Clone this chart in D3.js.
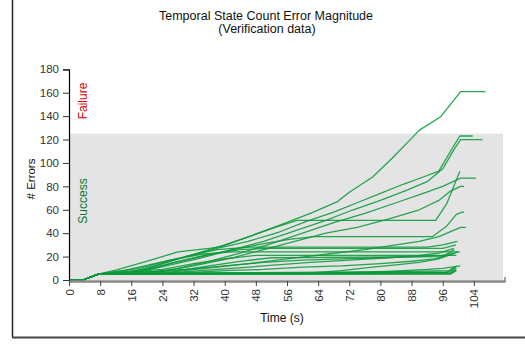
<!DOCTYPE html>
<html><head><meta charset="utf-8">
<script src="https://cdn.jsdelivr.net/npm/d3@7"></script>
<style>body{margin:0;background:#fff;} text{font-family:"Liberation Sans",Arial,sans-serif;}</style>
</head><body><svg id="c" width="525" height="345"></svg>
<script>
const xTicks = [0,8,16,24,32,40,48,56,64,72,80,88,96,104];
const yTicks = [0,20,40,60,80,100,120,140,160,180];
const successLimit = 125;
const start = [[0,0],[3.6,0],[7.5,5]];
// each series: [time (s), # errors] points after the common start
const s1  = [[12,8.5],[19,15],[28,24],[36,27],[39,28.5],[47,38],[55,48],[62,57],[69,67],[72,75],[78,88],[83,104],[88,121],[90,128],[95.5,139.5],[100.6,161],[107,161]];
const s2  = [[15,6],[22,12],[30,20],[38,27],[46,33],[54,41],[61,50],[68,58],[74,66],[80,74],[86,82],[91,88],[95,93],[98,110],[100.4,123],[103.7,123]];
const s3  = [[17,6],[25,12],[33,18],[41,25],[50,33],[58,42],[66,51],[73,60],[80,68],[87,77],[92,84],[96,95],[99,112],[100.6,120],[106.2,120]];
const s4  = [[16,6],[24,14],[32,22],[40,30],[47,38],[53,45],[58.6,51],[94.2,51],[97,65],[100.4,93]];
const s5  = [[20,6],[28,10],[36,16],[44,23],[52,31],[60,40],[68,49],[76,57],[84,66],[91,74],[96,80],[100.6,87],[104.5,87]];
const s6  = [[22,6],[32,12],[42,19],[50,26],[58,33],[66,40],[74,45],[82,52],[90,60],[95,68],[98,76],[100.6,80],[101.5,80]];
const s7  = [[18,7],[26,14],[34,20],[42,26],[50,31],[57,35],[62.9,37],[93.3,37],[97,46],[99.5,56],[101,58],[101.5,58]];
const s8  = [[24,6],[35,10],[46,14],[56,18],[66,22],[76,26],[84,30],[90,33],[95,37],[100.6,45],[102,45]];
const s9  = [[14,8],[22,14],[30,20],[38,26],[46.6,28],[92,28],[96,30],[99.8,33]];
const s10 = [[20,9],[28,16],[36,22],[44,26],[50,27],[96,27],[99.4,30]];
const s11 = [[26,6],[38,9],[50,12],[62,15],[72,17],[82,19],[90,21],[95,23],[98.9,27]];
const s12 = [[18,10],[26,17],[34,22],[42,24],[96,24],[100.4,24]];
const s13 = [[24,9],[32,14],[40,18],[48,21],[97,21],[99.5,21]];
const s14 = [[28,8],[36,12],[44,16],[52,19],[96,20],[99,26]];
const s15 = [[62,6],[70,8],[78,11],[84,13],[90,15],[95,18],[100,24]];
const s16 = [[70,6],[78,7],[86,8],[92,9],[96,10],[100.5,12]];
const s17 = [[20,7],[30,9],[40,12],[50,15],[60,17],[70,18],[80,19],[90,20],[96,21],[99,23]];
const s18 = [[30,6],[40,8],[50,9],[60,11],[70,12],[80,14],[88,16],[94,18],[98,22]];
const s19 = [[98,5],[99.5,8]];
const s20 = [[60,5],[98,6],[99.5,9]];
const s21 = [[40,6],[98,7],[99.5,10]];
const s22 = [[50,5.5],[97,6.5],[99,11]];
const s23 = [[98,5.5]];
const s24 = [[30,6],[80,7],[98,8],[99.7,12]];
const seriesList = [s24,s23,s22,s21,s20,s19,s18,s17,s16,s15,s14,s13,s12,s11,s10,s9,s8,s7,s6,s5,s4,s3,s2,s1];

const svg = d3.select("#c");
const x = d3.scaleLinear().domain([0,112]).range([69,505]);
const y = d3.scaleLinear().domain([0,180]).range([280,69.3]);

// frame
svg.append("line").attr("x1",12.5).attr("x2",12.5).attr("y1",0).attr("y2",337).attr("stroke","#222").attr("stroke-width",1.5);
svg.append("line").attr("x1",12).attr("x2",525).attr("y1",337.5).attr("y2",337.5).attr("stroke","#444").attr("stroke-width",2);

// success band
svg.append("rect").attr("x",x(0)).attr("y",y(successLimit)).attr("width",x(111.5)-x(0)).attr("height",y(0)-y(successLimit)).attr("fill","#e4e4e4");

// title
svg.append("text").attr("x",266).attr("y",20).attr("text-anchor","middle").attr("font-size",12.5).attr("fill","#111").text("Temporal State Count Error Magnitude");
svg.append("text").attr("x",267).attr("y",33).attr("text-anchor","middle").attr("font-size",12.5).attr("fill","#111").text("(Verification data)");

// lines
const line = d3.line().x(d=>x(d[0])).y(d=>y(d[1]));
svg.append("g").selectAll("path").data(seriesList).join("path")
  .attr("d",d=>line(start.concat(d))).attr("fill","none")
  .attr("stroke","#0a9a3a").attr("stroke-opacity",0.88).attr("stroke-width",1.3).attr("stroke-linejoin","round");

// y axis
const ya = svg.append("g").attr("transform","translate(69,0)")
  .call(d3.axisLeft(y).tickValues(yTicks).tickSize(6).tickPadding(4));
ya.select(".domain").attr("stroke","#000").attr("stroke-width",1.2);
ya.selectAll("line").attr("stroke","#333");
ya.selectAll("text").attr("font-size",11.5).attr("fill","#333").attr("font-family","Liberation Sans, Arial, sans-serif");

// x axis
const xa = svg.append("g").attr("transform","translate(0,281)")
  .call(d3.axisBottom(x).tickValues(xTicks).tickSize(5).tickSizeOuter(0));
xa.select(".domain").attr("stroke","#888").attr("stroke-width",2.5);
xa.selectAll(".tick line").attr("stroke","#444");
xa.selectAll("text").attr("font-size",11.5).attr("fill","#333").attr("font-family","Liberation Sans, Arial, sans-serif")
  .attr("transform","rotate(-90)").attr("text-anchor","end").attr("x",-8).attr("y",0).attr("dy","0.35em");
svg.append("line").attr("x1",x(112)).attr("x2",x(112)).attr("y1",277).attr("y2",282).attr("stroke","#888").attr("stroke-width",1.5);

// labels
svg.append("text").attr("transform","translate(35,179) rotate(-90)").attr("text-anchor","middle").attr("font-size",11.5).attr("fill","#111").text("# Errors");
svg.append("text").attr("x",282).attr("y",322).attr("text-anchor","middle").attr("font-size",12).attr("fill","#111").text("Time (s)");
svg.append("text").attr("transform","translate(87,101) rotate(-90)").attr("text-anchor","middle").attr("font-size",12).attr("fill","#e00000").text("Failure");
svg.append("text").attr("transform","translate(87,201) rotate(-90)").attr("text-anchor","middle").attr("font-size",12).attr("fill","#0a7a30").text("Success");
</script></body></html>
